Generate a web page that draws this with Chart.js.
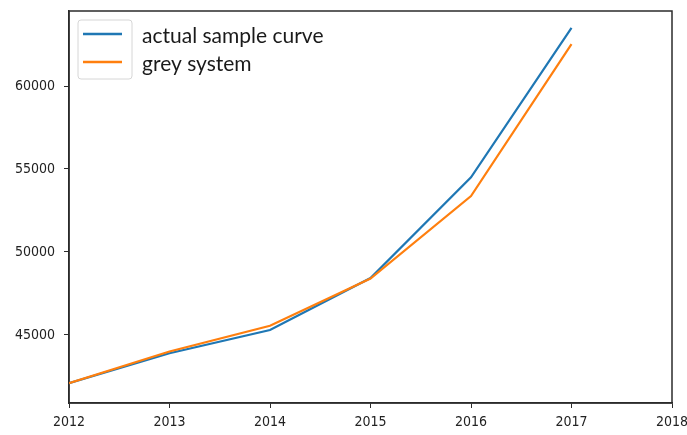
<!DOCTYPE html>
<html>
<head>
<meta charset="utf-8">
<script src="https://cdn.jsdelivr.net/npm/chart.js@4.4.0/dist/chart.umd.min.js"></script>
<style>
html,body{margin:0;padding:0;background:#fff;}
#wrap{width:687px;height:435px;}
</style>
</head>
<body>
<div id="wrap"><canvas id="c" width="687" height="435"></canvas></div>
<script>
const years = [2012, 2013, 2014, 2015, 2016, 2017];
const actualSample = [42100, 43900, 45300, 48430, 54500, 63500];
const greySystem = [42100, 44000, 45550, 48400, 53370, 62530];
const seriesNames = ['actual sample curve', 'grey system'];
const xTicks = [2012, 2013, 2014, 2015, 2016, 2017, 2018];
const yTicks = [45000, 50000, 55000, 60000];

const toPts = (vals) => vals.map((v, i) => ({x: years[i], y: v}));
const axisColor = '#2b2b2b';
const tickFont = {family: "'DejaVu Sans Condensed', 'DejaVu Sans', sans-serif", size: 14};

const framePlugin = {
  id: 'frame',
  beforeDatasetsDraw(chart) {
    const {ctx, chartArea: a} = chart;
    ctx.save();
    ctx.strokeStyle = axisColor;
    ctx.lineWidth = 1.5;
    ctx.strokeRect(a.left, a.top, a.right - a.left, a.bottom - a.top);
    ctx.restore();
  }
};

const legendPlugin = {
  id: 'innerLegend',
  afterDraw(chart) {
    const {ctx, chartArea: a} = chart;
    const x0 = a.left + 9, y0 = a.top + 9, w = 54, h = 59, r = 3;
    ctx.save();
    ctx.fillStyle = 'rgba(255,255,255,0.85)';
    ctx.strokeStyle = '#d6d6d6';
    ctx.lineWidth = 1;
    ctx.beginPath();
    ctx.moveTo(x0 + r, y0);
    ctx.lineTo(x0 + w - r, y0);
    ctx.arcTo(x0 + w, y0, x0 + w, y0 + r, r);
    ctx.lineTo(x0 + w, y0 + h - r);
    ctx.arcTo(x0 + w, y0 + h, x0 + w - r, y0 + h, r);
    ctx.lineTo(x0 + r, y0 + h);
    ctx.arcTo(x0, y0 + h, x0, y0 + h - r, r);
    ctx.lineTo(x0, y0 + r);
    ctx.arcTo(x0, y0, x0 + r, y0, r);
    ctx.closePath();
    ctx.fill();
    ctx.stroke();
    const rows = [a.top + 23, a.top + 51];
    chart.data.datasets.forEach((ds, i) => {
      const y = rows[i];
      ctx.strokeStyle = ds.borderColor;
      ctx.lineWidth = 2.5;
      ctx.beginPath();
      ctx.moveTo(a.left + 14, y);
      ctx.lineTo(a.left + 53, y);
      ctx.stroke();
      ctx.fillStyle = '#1a1a1a';
      ctx.font = "21px Lato, 'Open Sans', sans-serif";
      ctx.textBaseline = 'middle';
      ctx.textAlign = 'left';
      ctx.fillText(ds.label, a.left + 73, y + 2);
    });
    ctx.restore();
  }
};

new Chart(document.getElementById('c'), {
  type: 'line',
  data: {
    datasets: [
      {label: seriesNames[0], data: toPts(actualSample), borderColor: '#1f77b4', borderWidth: 2.2, pointRadius: 0, fill: false, tension: 0, order: 1},
      {label: seriesNames[1], data: toPts(greySystem), borderColor: '#ff7f0e', borderWidth: 2.2, pointRadius: 0, fill: false, tension: 0, order: 0}
    ]
  },
  options: {
    responsive: false,
    animation: false,
    devicePixelRatio: 1,
    layout: {padding: {left: 0, top: 11, right: 15, bottom: 0}},
    plugins: {legend: {display: false}, tooltip: {enabled: false}},
    scales: {
      x: {
        type: 'linear',
        min: 2012, max: 2018,
        afterBuildTicks(s) { s.ticks = xTicks.map(v => ({value: v})); },
        afterFit(s) { s.height = 32; s.paddingLeft = 0; s.paddingRight = 0; },
        grid: {drawOnChartArea: false, drawTicks: true, tickLength: 5, color: axisColor, lineWidth: 1},
        border: {display: true, color: axisColor, width: 1.5},
        ticks: {color: '#222', font: tickFont, padding: 6, maxRotation: 0, callback: v => String(v)}
      },
      y: {
        type: 'linear',
        min: 40900, max: 64520,
        afterBuildTicks(s) { s.ticks = yTicks.map(v => ({value: v})); },
        afterFit(s) { s.width = 69; s.paddingTop = 0; s.paddingBottom = 0; },
        grid: {drawOnChartArea: false, drawTicks: true, tickLength: 5, color: axisColor, lineWidth: 1},
        border: {display: true, color: axisColor, width: 1.5},
        ticks: {color: '#222', font: tickFont, padding: 9, callback: v => String(v)}
      }
    }
  },
  plugins: [framePlugin, legendPlugin]
});
</script>
</body>
</html>
